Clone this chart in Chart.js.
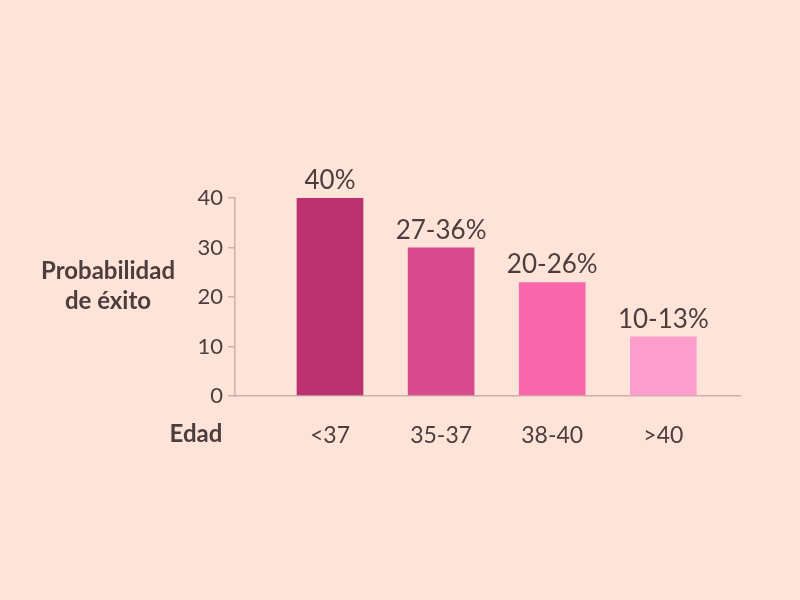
<!DOCTYPE html>
<html>
<head>
<meta charset="utf-8">
<script src="https://cdn.jsdelivr.net/npm/chart.js@4"></script>
<style>
  html, body { margin: 0; padding: 0; background: #fde3d8; }
  #chart { display: block; }
</style>
</head>
<body>
<canvas id="chart" width="800" height="600"></canvas>
<script>
  var categories = ['<37', '35-37', '38-40', '>40'];
  var values = [40, 30, 23, 12];
  var valueLabels = ['40%', '27-36%', '20-26%', '10-13%'];
  var barColors = ['#bc3270', '#d94a8d', '#f967ab', '#fb9ecb'];
  var yTicks = [0, 10, 20, 30, 40];

  var FONT = 'Lato, "Noto Sans", sans-serif';
  var textColor = '#4d3d3d';
  var axisColor = '#cdb0ad';

  // texts above the bars and the two axis captions
  var extraText = {
    id: 'extraText',
    afterDatasetsDraw: function (chart) {
      var ctx = chart.ctx;
      var meta = chart.getDatasetMeta(0);
      ctx.save();
      ctx.fillStyle = textColor;
      ctx.textAlign = 'center';
      ctx.textBaseline = 'alphabetic';
      ctx.font = '26px ' + FONT;
      meta.data.forEach(function (bar, i) {
        ctx.fillText(valueLabels[i], bar.x, bar.y - 9);
      });

      ctx.font = 'bold 24px ' + FONT;
      ctx.textBaseline = 'middle';
      ctx.fillText('Probabilidad', 108, 271);
      ctx.fillText('de éxito', 108, 301);
      ctx.fillText('Edad', 196, 434);
      ctx.restore();
    }
  };

  var ctx = document.getElementById('chart').getContext('2d');
  var myChart = new Chart(ctx, {
    type: 'bar',
    data: {
      datasets: [{
        data: values.map(function (v, i) { return { x: i + 1, y: v }; }),
        backgroundColor: barColors,
        borderWidth: 0,
        barPercentage: 0.6,
        categoryPercentage: 1
      }]
    },
    options: {
      responsive: false,
      animation: false,
      devicePixelRatio: 1,
      layout: { padding: { left: 0, right: 60, top: 198, bottom: 0 } },
      plugins: {
        legend: { display: false },
        tooltip: { enabled: false }
      },
      scales: {
        x: {
          type: 'linear',
          offset: false,
          min: 0.145,
          max: 4.69,
          afterBuildTicks: function (scale) {
            scale.ticks = categories.map(function (c, i) { return { value: i + 1 }; });
          },
          afterFit: function (scale) { scale.height = 204; },
          grid: { display: false },
          border: { display: true, color: axisColor, width: 1.5 },
          ticks: {
            callback: function (v) { return categories[v - 1]; },
            color: textColor,
            font: { family: FONT, size: 23 },
            padding: 18,
            maxRotation: 0
          }
        },
        y: {
          min: 0,
          max: 40,
          afterBuildTicks: function (scale) {
            scale.ticks = yTicks.map(function (v) { return { value: v }; });
          },
          afterFit: function (scale) { scale.width = 235; },
          grid: {
            drawOnChartArea: false,
            drawTicks: true,
            tickLength: 7,
            color: axisColor,
            lineWidth: 1.5
          },
          border: { display: true, color: axisColor, width: 1.5 },
          ticks: {
            color: textColor,
            font: { family: FONT, size: 22 },
            padding: 5
          }
        }
      }
    },
    plugins: [extraText]
  });
</script>
</body>
</html>
